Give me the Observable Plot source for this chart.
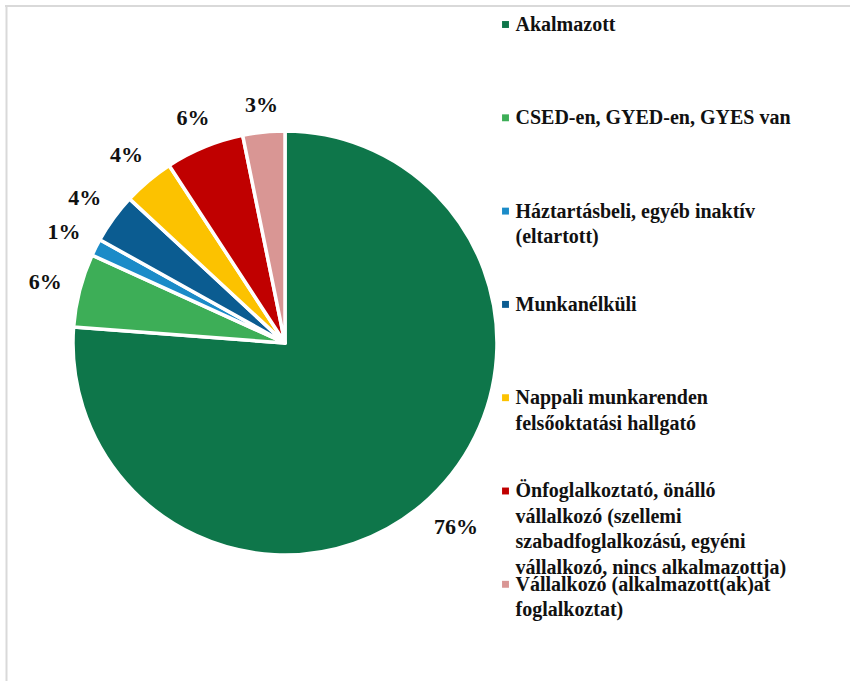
<!DOCTYPE html>
<html>
<head>
<meta charset="utf-8">
<script src="https://cdn.jsdelivr.net/npm/d3@7"></script>
<script src="https://cdn.jsdelivr.net/npm/@observablehq/plot@0.6"></script>
<style>
  html, body { margin: 0; padding: 0; background: #fff; }
</style>
</head>
<body>
<div id="chart"></div>
<script>
const categories = [
  "Akalmazott",
  "CSED-en, GYED-en, GYES van",
  "Háztartásbeli, egyéb inaktív (eltartott)",
  "Munkanélküli",
  "Nappali munkarenden felsőoktatási hallgató",
  "Önfoglalkoztató, önálló vállalkozó (szellemi szabadfoglalkozású, egyéni vállalkozó, nincs alkalmazottja)",
  "Vállalkozó (alkalmazott(ak)at foglalkoztat)"
];
const shares = [76.2, 5.6, 1.3, 3.8, 3.9, 6.0, 3.2];
const percentLabels = ["76%", "6%", "1%", "4%", "4%", "6%", "3%"];
const legendLines = [
  ["Akalmazott"],
  ["CSED-en, GYED-en, GYES van"],
  ["Háztartásbeli, egyéb inaktív", "(eltartott)"],
  ["Munkanélküli"],
  ["Nappali munkarenden", "felsőoktatási hallgató"],
  ["Önfoglalkoztató, önálló", "vállalkozó (szellemi", "szabadfoglalkozású, egyéni", "vállalkozó, nincs alkalmazottja)"],
  ["Vállalkozó (alkalmazott(ak)at", "foglalkoztat)"]
];
const colors = ["#0e764a", "#3dae57", "#1b8bc8", "#0b5c91", "#fcc200", "#c00000", "#d99694"];

// layout
const W = 850, H = 681;
const cx = 285, cy = 343, R = 212, labelGap = 18, labelFont = 22, labelH = 16;
const legendX = 505, legendTextX = 515, legendTop = 24, legendStep = 93.3, lineStep = 25.5;
const FONT = "'Liberation Serif', 'Times New Roman', serif";

const arcs = d3.pie().sort(null).value(d => d)(shares);
const slices = arcs.map((a, i) => {
  const mid = (a.startAngle + a.endAngle) / 2;
  const ux = Math.sin(mid), uy = -Math.cos(mid);
  const w = percentLabels[i].length * labelFont * 0.5 + labelFont * 0.5;
  const ext = Math.abs(ux) * w / 2 + Math.abs(uy) * labelH / 2;
  const d = R + labelGap + ext;
  return {
    name: categories[i],
    value: shares[i],
    color: colors[i],
    label: percentLabels[i],
    start: a.startAngle,
    end: a.endAngle,
    lx: cx + d * ux,
    ly: cy + d * uy
  };
});

const legendItems = categories.map((c, i) => ({name: c, color: colors[i], y: legendTop + i * legendStep}));
const legendRows = legendLines.flatMap((lines, i) =>
  lines.map((t, j) => ({text: t, y: legendTop + i * legendStep + j * lineStep})));

const arcGen = d3.arc().innerRadius(0).outerRadius(R);

function pieMark(index, scales) {
  const sx = scales && typeof scales.x === "function" ? scales.x : (v => v);
  const sy = scales && typeof scales.y === "function" ? scales.y : (v => v);
  const g = d3.create("svg:g").attr("transform", `translate(${sx(cx)},${sy(cy)})`);
  g.selectAll("path")
    .data(slices)
    .join("path")
    .attr("d", d => arcGen({startAngle: d.start, endAngle: d.end}))
    .attr("fill", d => d.color)
    .attr("stroke", "#ffffff")
    .attr("stroke-width", 3.5)
    .attr("stroke-linejoin", "round")
    .append("title").text(d => `${d.name}: ${d.label}`);
  return g.node();
}

const chart = Plot.plot({
  width: W,
  height: H,
  margin: 0,
  x: {type: "identity", axis: null},
  y: {type: "identity", axis: null},
  style: {fontFamily: FONT, background: "#fff", overflow: "visible"},
  marks: [
    Plot.ruleY([5.5], {x1: 5, x2: W, stroke: "#d9d9d9", strokeWidth: 2}),
    Plot.ruleX([6], {y1: 5, y2: H, stroke: "#d9d9d9", strokeWidth: 2}),
    pieMark,
    Plot.text(slices, {
      x: "lx",
      y: "ly",
      text: "label",
      fontSize: labelFont,
      fontWeight: "bold",
      fill: "#111",
      textAnchor: "middle",
      lineAnchor: "middle"
    }),
    Plot.dot(legendItems, {
      x: legendX, y: "y", symbol: "square", r: 3.9, fill: "color", stroke: null
    }),
    Plot.text(legendRows, {
      x: legendTextX, y: "y", text: "text",
      fontSize: 20, fontWeight: "bold", fill: "#111",
      textAnchor: "start", lineAnchor: "middle"
    })
  ]
});
document.getElementById("chart").appendChild(chart);
</script>
</body>
</html>
